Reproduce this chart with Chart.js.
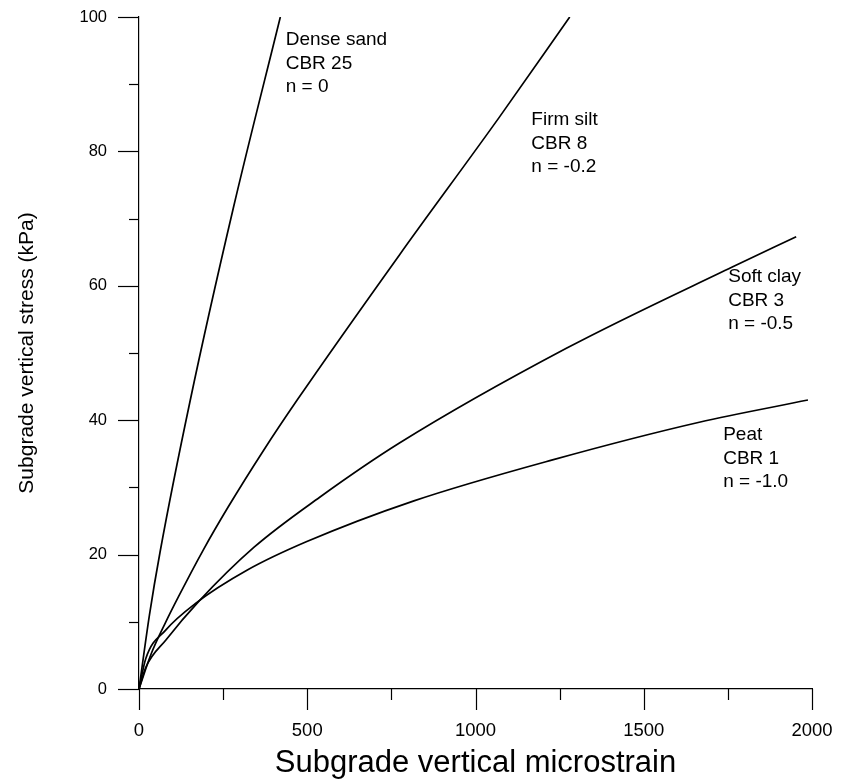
<!DOCTYPE html>
<html>
<head>
<meta charset="utf-8">
<script src="https://cdn.jsdelivr.net/npm/chart.js@4/dist/chart.umd.min.js"></script>
<style>
html,body{margin:0;padding:0;background:#fff;}
#wrap{width:856px;height:780px;position:relative;}
canvas{display:block;}
</style>
</head>
<body>
<div id="wrap"><canvas id="c" width="856" height="780"></canvas></div>
<script>
// ---- data ----
const seriesNames = ['Dense sand', 'Firm silt', 'Soft clay', 'Peat'];

const denseSandStrain = [0, 31, 63, 152, 280, 420];
const denseSandStress = [0, 11, 20.5, 42.9, 71.5, 100];

const firmSiltStrain = [0, 36, 78, 117, 190, 264, 370, 470, 774, 1071, 1280];
const firmSiltStress = [0, 5.2, 9.8, 13.7, 20.6, 27, 35.5, 43, 64.6, 85.1, 100];

const softClayStrain = [0, 20, 80, 177, 342, 536, 774, 1270, 1763, 1953];
const softClayStress = [0, 3.2, 7.3, 13, 21.1, 28.5, 36.6, 50.7, 62.8, 67.3];

const peatStrain = [0, 20, 80, 167, 322, 497, 817, 1229, 1665, 1988];
const peatStress = [0, 4.5, 8.8, 12.7, 17.7, 21.9, 28, 34.1, 39.7, 43];

const xTickLabels = [0, 500, 1000, 1500, 2000];
const yTickLabels = [0, 20, 40, 60, 80, 100];

const annotationText = [
  ['Dense sand', 'CBR 25', 'n = 0'],
  ['Firm silt', 'CBR 8', 'n = -0.2'],
  ['Soft clay', 'CBR 3', 'n = -0.5'],
  ['Peat', 'CBR 1', 'n = -1.0']
];
const annotationStrain = [436, 1166, 1751, 1736];
const annotationStress = [96.6, 84.7, 61.3, 37.8];

const xTitle = 'Subgrade vertical microstrain';
const yTitle = 'Subgrade vertical stress (kPa)';

// ---- build chart ----
function pts(xs, ys) { return xs.map((x, i) => ({x: x, y: ys[i]})); }
const seriesData = [
  pts(denseSandStrain, denseSandStress),
  pts(firmSiltStrain, firmSiltStress),
  pts(softClayStrain, softClayStress),
  pts(peatStrain, peatStress)
];

const FONT = '"Liberation Sans", Arial, sans-serif';

const tickPlugin = {
  id: 'customTicks',
  afterDraw(chart) {
    const ctx = chart.ctx;
    const xs = chart.scales.x, ys = chart.scales.y;
    const area = chart.chartArea;
    ctx.save();
    ctx.strokeStyle = '#000';
    ctx.lineWidth = 1.2;
    xs.ticks.forEach(t => {
      const px = Math.round(xs.getPixelForValue(t.value)) + 0.5;
      const major = xTickLabels.includes(t.value);
      ctx.beginPath();
      ctx.moveTo(px, area.bottom);
      ctx.lineTo(px, area.bottom + (major ? 21 : 11));
      ctx.stroke();
    });
    ys.ticks.forEach(t => {
      const py = Math.round(ys.getPixelForValue(t.value)) + 0.5;
      const major = yTickLabels.includes(t.value);
      ctx.beginPath();
      ctx.moveTo(area.left, py);
      ctx.lineTo(area.left - (major ? 21 : 10), py);
      ctx.stroke();
    });
    // annotations
    ctx.fillStyle = '#000';
    ctx.font = '19px ' + FONT;
    ctx.textAlign = 'left';
    ctx.textBaseline = 'middle';
    annotationText.forEach((lines, i) => {
      const px = xs.getPixelForValue(annotationStrain[i]);
      const py = ys.getPixelForValue(annotationStress[i]);
      lines.forEach((s, j) => ctx.fillText(s, px, py + j * 23.5));
    });
    ctx.restore();
  }
};

new Chart(document.getElementById('c'), {
  type: 'scatter',
  data: {
    datasets: seriesData.map((d, i) => ({
      label: seriesNames[i],
      data: d,
      showLine: true,
      borderColor: '#000',
      backgroundColor: '#000',
      borderWidth: 1.7,
      pointRadius: 0,
      cubicInterpolationMode: 'monotone',
      fill: false
    }))
  },
  options: {
    responsive: false,
    animation: false,
    devicePixelRatio: 1,
    layout: {padding: {left: 0, right: 44, top: 17, bottom: 0}},
    plugins: {legend: {display: false}, tooltip: {enabled: false}},
    scales: {
      x: {
        type: 'linear', min: 0, max: 2000,
        grid: {display: false, drawTicks: false},
        border: {display: true, color: '#000', width: 1.2},
        ticks: {
          stepSize: 250, autoSkip: false, maxRotation: 0, padding: 31,
          color: '#000', font: {family: FONT, size: 18.5},
          callback: v => xTickLabels.includes(v) ? String(v) : ''
        },
        title: {display: true, text: xTitle, color: '#000', font: {family: FONT, size: 31, lineHeight: 1}, padding: {top: 0, bottom: 1}},
        afterFit(s) { s.height = 91; s.paddingLeft = 0; s.paddingRight = 0; }
      },
      y: {
        type: 'linear', min: 0, max: 100,
        grid: {display: false, drawTicks: false},
        border: {display: true, color: '#000', width: 1.2},
        ticks: {
          stepSize: 10, autoSkip: false, padding: 32,
          color: '#000', font: {family: FONT, size: 16.5},
          callback: v => yTickLabels.includes(v) ? String(v) : ''
        },
        title: {display: true, text: yTitle, color: '#000', font: {family: FONT, size: 21}, padding: {top: 15, bottom: 0}},
        afterFit(s) { s.width = 139; s.paddingTop = 0; s.paddingBottom = 0; }
      }
    }
  },
  plugins: [tickPlugin]
});
</script>
</body>
</html>
